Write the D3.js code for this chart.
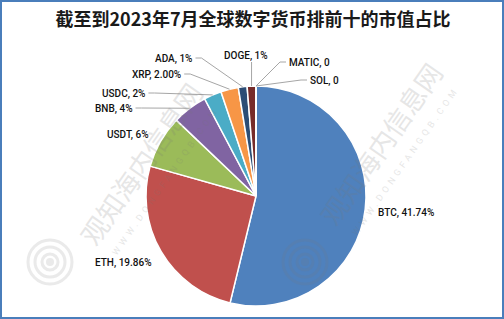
<!DOCTYPE html>
<meta charset="utf-8">
<script src="https://d3js.org/d3.v7.min.js"></script>
<style>
  body { margin: 0; background: #fff; }
</style>
<div id="pie"></div>
<script>

    // data
    var coins = ["BTC", "ETH", "USDT", "BNB", "USDC", "XRP", "ADA", "DOGE", "MATIC", "SOL"];
    var shares = [41.74, 19.86, 6, 4, 2, 2, 1, 1, 0, 0];
    var shareText = ["41.74%", "19.86%", "6%", "4%", "2%", "2.00%", "1%", "1%", "0", "0"];
    var colors = ["#4f81bd", "#c0504d", "#9bbb59", "#8064a2", "#4bacc6", "#f79646",
                  "#2c4d75", "#772c2a", "#5f7530", "#4d3b62"];

    // where the data labels sit (x, y of text start) and whether they get a leader line
    var labelAt = [[378, 212], [95, 262], [107, 134], [95, 108], [102, 93],
                   [132, 74], [155, 58], [224, 55], [289, 62], [310, 80]];
    var leader = [false, false, false, true, true, true, true, "down", true, true];

    var width = 504, height = 319;
    var cx = 256, cy = 196, radius = 110;

    var svg = d3.select("#pie")
      .append("svg")
        .attr("width", width)
        .attr("height", height);

    svg.append("rect")
        .attr("width", width)
        .attr("height", height)
        .attr("fill", "#fff");

    // title
    svg.append("text")
        .attr("x", 253)
        .attr("y", 26)
        .attr("text-anchor", "middle")
        .style("font-family", "'Noto Sans CJK SC', sans-serif")
        .style("font-weight", "bold")
        .style("font-size", "18px")
        .style("fill", "#1a1a1a")
        .text("截至到2023年7月全球数字货币排前十的市值占比");

    var data = coins.map(function(c, i) {
      return { name: c, value: shares[i], text: shareText[i], color: colors[i], i: i };
    });

    var pie = d3.pie()
      .sort(null)
      .value(function(d) { return d.value; });

    var arc = d3.arc().innerRadius(0).outerRadius(radius);
    var edge = d3.arc().innerRadius(radius).outerRadius(radius);

    var g = svg.append("g")
        .attr("transform", "translate(" + cx + "," + cy + ")");

    var arcs = pie(data);

    g.selectAll("path.slice")
      .data(arcs)
      .enter()
      .append("path")
        .attr("class", "slice")
        .attr("d", arc)
        .attr("fill", function(d) { return d.data.color; })
        .attr("stroke", "#fff")
        .attr("stroke-width", 1.5);

    // labels
    var labels = svg.selectAll("text.lab")
      .data(arcs)
      .enter()
      .append("text")
        .attr("class", "lab")
        .attr("x", function(d) { return labelAt[d.data.i][0]; })
        .attr("y", function(d) { return labelAt[d.data.i][1]; })
        .attr("dy", "0.35em")
        .style("font-family", "Roboto, sans-serif")
        .style("font-weight", "500")
        .style("font-size", "10px")
        .style("fill", "#111")
        .text(function(d) { return d.data.name + ", " + d.data.text; });

    // leader lines
    labels.each(function(d) {
      var kind = leader[d.data.i];
      if (!kind) return;
      var w = this.getComputedTextLength();
      var lx = labelAt[d.data.i][0], ly = labelAt[d.data.i][1];
      var p = edge.centroid(d);
      var px = cx + p[0], py = cy + p[1];
      var pts;
      if (kind === "down") {
        pts = [[px, ly + 7], [px, py]];
      } else if (lx + w / 2 < cx) {
        pts = [[lx + w + 3, ly], [lx + w + 9, ly], [px, py]];
      } else {
        pts = [[lx - 3, ly], [lx - 9, ly], [px, py]];
      }
      svg.append("path")
        .attr("d", d3.line()(pts))
        .attr("fill", "none")
        .attr("stroke", "#a6a6a6")
        .attr("stroke-width", 1);
    });

    // faint watermark
    var marks = [[150, 170], [390, 150]];
    marks.forEach(function(m) {
      var wm = svg.append("g")
          .attr("transform", "translate(" + m[0] + "," + m[1] + ") rotate(-55)")
          .style("opacity", 0.18);
      wm.append("text")
          .attr("text-anchor", "middle")
          .style("font-family", "'Noto Sans CJK SC', sans-serif")
          .style("font-size", "27px")
          .style("fill", "#777")
          .text("观知海内信息网");
      wm.append("text")
          .attr("y", 22)
          .attr("text-anchor", "middle")
          .style("font-family", "Roboto, sans-serif")
          .style("font-size", "9px")
          .style("letter-spacing", "4px")
          .style("fill", "#777")
          .text("WWW.DONGFANGQB.COM");
    });
    var logos = [[50, 262], [305, 262]];
    logos.forEach(function(l) {
      var lg = svg.append("g").style("opacity", 0.15);
      [22, 15, 8].forEach(function(r) {
        lg.append("circle")
          .attr("cx", l[0]).attr("cy", l[1]).attr("r", r)
          .attr("fill", "none").attr("stroke", "#777").attr("stroke-width", 3);
      });
      lg.append("circle")
        .attr("cx", l[0]).attr("cy", l[1]).attr("r", 4)
        .attr("fill", "#777");
    });

    // outer frame
    svg.append("rect")
        .attr("x", 1)
        .attr("y", 1)
        .attr("width", width - 2)
        .attr("height", height - 2)
        .attr("fill", "none")
        .attr("stroke", "#4a7ebb")
        .attr("stroke-width", 2);

</script>
